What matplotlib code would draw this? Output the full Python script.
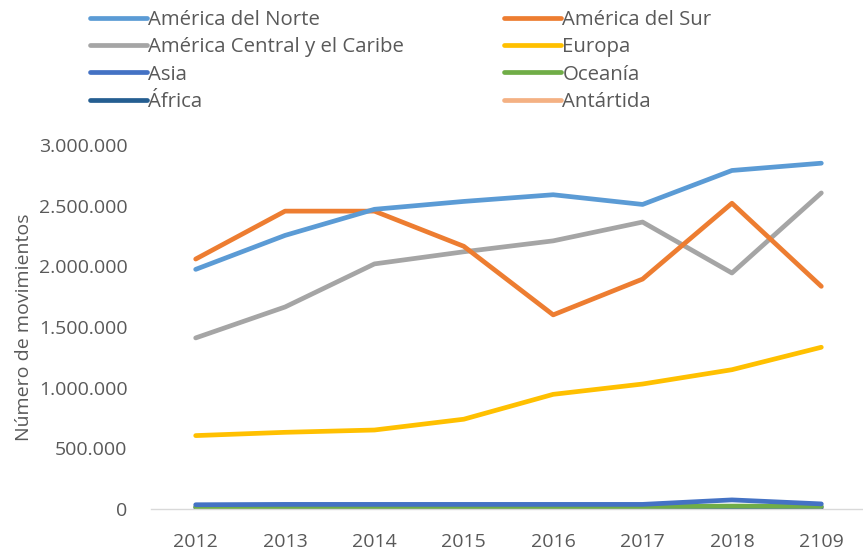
import matplotlib.pyplot as plt
from matplotlib.ticker import FuncFormatter

plt.rcParams['font.family'] = ['Open Sans', 'DejaVu Sans']

years = ['2012', '2013', '2014', '2015', '2016', '2017', '2018', '2109']

america_norte = [1975000, 2255000, 2470000, 2535000, 2590000, 2510000, 2790000, 2850000]
america_sur = [2060000, 2455000, 2455000, 2165000, 1600000, 1895000, 2520000, 1835000]
america_central = [1410000, 1665000, 2020000, 2120000, 2210000, 2365000, 1945000, 2605000]
europa = [605000, 632000, 651000, 740000, 945000, 1030000, 1148000, 1333000]
asia = [35000, 38000, 38000, 38000, 38000, 38000, 75000, 42000]
oceania = [18000, 20000, 20000, 20000, 20000, 20000, 24000, 22000]
africa = [12000, 13000, 13000, 13000, 13000, 13000, 15000, 14000]
antartida = [1000, 1000, 1000, 1000, 1000, 1000, 1000, 1000]

series = [
    ('América del Norte', america_norte, '#5B9BD5'),
    ('América del Sur', america_sur, '#ED7D31'),
    ('América Central y el Caribe', america_central, '#A5A5A5'),
    ('Europa', europa, '#FFC000'),
    ('Asia', asia, '#4472C4'),
    ('Oceanía', oceania, '#70AD47'),
    ('África', africa, '#255E91'),
    ('Antártida', antartida, '#F4B183'),
]

text_color = '#595959'

fig = plt.figure(figsize=(8.63, 5.52), dpi=100)
ax = fig.add_axes([151 / 863, 43 / 552, 715 / 863, 364 / 552])

x = list(range(len(years)))
handles = {}
# draw bottom series first so the big ones sit on top, like the original
for name, vals, col in series[::-1]:
    ln, = ax.plot(x, vals, color=col, lw=3.4, solid_capstyle='round',
                  solid_joinstyle='round', label=name)
    handles[name] = ln

ax.set_xlim(-0.5, len(years) - 0.5)
ax.set_ylim(0, 3000000)
ax.set_yticks(range(0, 3000001, 500000))
ax.yaxis.set_major_formatter(FuncFormatter(lambda v, p: f'{int(v):,}'.replace(',', '.')))
ax.set_xticks(x)
ax.set_xticklabels(years)

for s in ['top', 'right', 'left']:
    ax.spines[s].set_visible(False)
ax.spines['bottom'].set_color('#D9D9D9')
ax.spines['bottom'].set_linewidth(1)
ax.tick_params(axis='both', length=0, labelsize=14, colors=text_color)
ax.tick_params(axis='y', pad=17)
ax.tick_params(axis='x', pad=17)

ax.set_ylabel('Número de movimientos', fontsize=14, color=text_color, labelpad=4)

# legend is filled row by row in the original: reorder for column-wise fill
order = [0, 2, 4, 6, 1, 3, 5, 7]
leg_handles = [handles[series[i][0]] for i in order]
leg = fig.legend(handles=leg_handles, loc='upper left', bbox_to_anchor=(82 / 863, 0.997),
                 ncol=2, frameon=False, fontsize=14.7, handlelength=2.8,
                 handletextpad=0.05, columnspacing=4.9, labelspacing=0.36,
                 borderaxespad=0)
for t in leg.get_texts():
    t.set_color(text_color)

fig.savefig('out.png', dpi=100)
